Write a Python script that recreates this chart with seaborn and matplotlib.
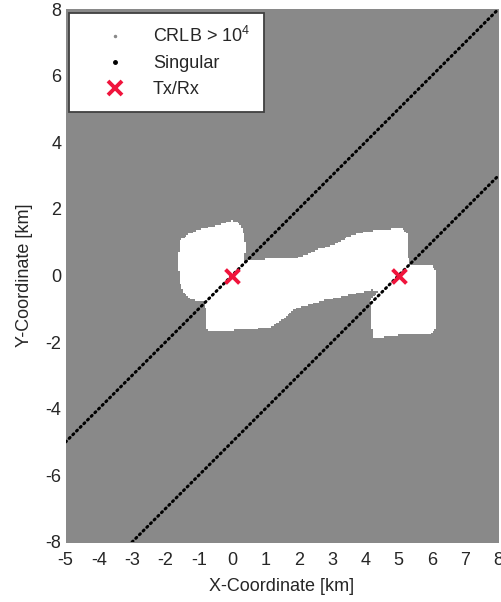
import numpy as np
import pandas as pd
import matplotlib
matplotlib.use("Agg")
import matplotlib.pyplot as plt
from matplotlib.path import Path
from matplotlib.lines import Line2D
import seaborn as sns

# Region where the bound stays below 1e4 (three lobes), outline vertices in km
lobe_left_x = [-1.58, -1.30, -1.00, -0.50, 0.00, 0.22, 0.32, 0.42, 0.38, 0.20, 0.05, -0.70, -0.90, -1.20, -1.45, -1.58, -1.62]
lobe_left_y = [1.05, 1.25, 1.38, 1.50, 1.65, 1.58, 1.40, 0.95, 0.45, 0.10, -0.05, -0.80, -0.78, -0.74, -0.55, -0.20, 0.40]

lobe_mid_x = [-0.82, 0.15, 0.50, 1.00, 1.85, 2.30, 2.60, 3.10, 3.50, 4.00, 4.50, 5.10, 5.25, 5.30, 5.35,
              4.55, 4.20, 3.40, 2.80, 2.20, 1.85, 1.50, 1.15, 0.50, -0.30, -0.75, -0.80]
lobe_mid_y = [-0.72, 0.25, 0.45, 0.50, 0.52, 0.65, 0.80, 0.95, 1.18, 1.32, 1.38, 1.42, 1.25, 0.50, 0.25,
              -0.55, -0.45, -0.62, -0.75, -0.92, -1.02, -1.35, -1.57, -1.62, -1.68, -1.65, -1.00]

lobe_right_x = [5.20, 6.00, 6.10, 6.12, 6.10, 5.95, 5.20, 4.80, 4.25, 4.17, 4.15, 4.10]
lobe_right_y = [0.33, 0.33, 0.15, -0.50, -1.60, -1.77, -1.78, -1.82, -1.90, -1.50, -0.90, -0.80]

# Singular loci: straight segments (start/end points, km)
sing_x0 = [-5.0, -3.0]
sing_y0 = [-5.0, -8.0]
sing_x1 = [8.0, 8.0]
sing_y1 = [8.0, 3.0]

# Transmitter / receiver positions
txrx_x = [0.0, 5.0]
txrx_y = [0.0, 0.0]

xticks = list(range(-5, 9))
yticks = list(range(-8, 9, 2))

# Evaluation grid
step = 0.05
gx, gy = np.meshgrid(np.arange(-5.0, 8.0 + step / 2, step), np.arange(-8.0, 8.0 + step / 2, step))
pts = np.column_stack([gx.ravel(), gy.ravel()])
low = np.zeros(len(pts), dtype=bool)
for lx, ly in [(lobe_left_x, lobe_left_y), (lobe_mid_x, lobe_mid_y), (lobe_right_x, lobe_right_y)]:
    low |= Path(np.column_stack([lx, ly])).contains_points(pts)
high = pd.DataFrame({"x": pts[~low, 0], "y": pts[~low, 1]})

sns.set_style("white")
plt.rcParams["font.family"] = ["Liberation Sans", "DejaVu Sans"]
plt.rcParams["mathtext.fontset"] = "custom"
plt.rcParams["mathtext.rm"] = "Liberation Sans"
plt.rcParams["axes.unicode_minus"] = False

fig = plt.figure(figsize=(5.02, 6.02), dpi=100, facecolor="white")
ax = fig.add_axes([0.1305, 0.0997, 0.8625, 0.8853])

gray = "#898989"
sns.scatterplot(data=high, x="x", y="y", marker="s", s=2.6, color=gray,
                linewidth=0, ax=ax, legend=False, rasterized=True)

for x0, y0, x1, y1 in zip(sing_x0, sing_y0, sing_x1, sing_y1):
    ax.plot([x0, x1], [y0, y1], color="black", lw=2.2, ls=(0, (0.4, 1.3)),
            dash_capstyle="round", zorder=3)

red = "#f0143c"
sns.scatterplot(x=txrx_x, y=txrx_y, marker="x", s=100, color=red, linewidth=2.8, ax=ax, zorder=4, legend=False)

ax.set_xlim(-5, 8)
ax.set_ylim(-8, 8)
ax.set_xticks(xticks)
ax.set_yticks(yticks)
ax.tick_params(axis="both", length=0, labelsize=13)
ax.tick_params(axis="x", pad=7)
ax.tick_params(axis="y", pad=3)
for s in ax.spines.values():
    s.set_visible(False)
ax.set_xlabel("X-Coordinate [km]", fontsize=13, labelpad=7)
ax.set_ylabel("Y-Coordinate [km]", fontsize=13, labelpad=9)

handles = [
    Line2D([], [], ls="none", marker=".", markersize=3, color=gray),
    Line2D([], [], ls="none", marker=".", markersize=5, color="black"),
    Line2D([], [], ls="none", marker="x", markersize=10, mew=2.8, color=red),
]
labels = ["CRLB > $10^4$", "Singular", "Tx/Rx"]
leg = ax.legend(handles, labels, loc="upper left", bbox_to_anchor=(0, 1), fontsize=13,
                borderaxespad=0.2, borderpad=0.75, handlelength=3.6, handletextpad=0.3,
                labelspacing=0.5, fancybox=False, framealpha=1, edgecolor="#404040")
leg.get_frame().set_linewidth(1.3)

fig.savefig("out.png", dpi=100, facecolor="white")
